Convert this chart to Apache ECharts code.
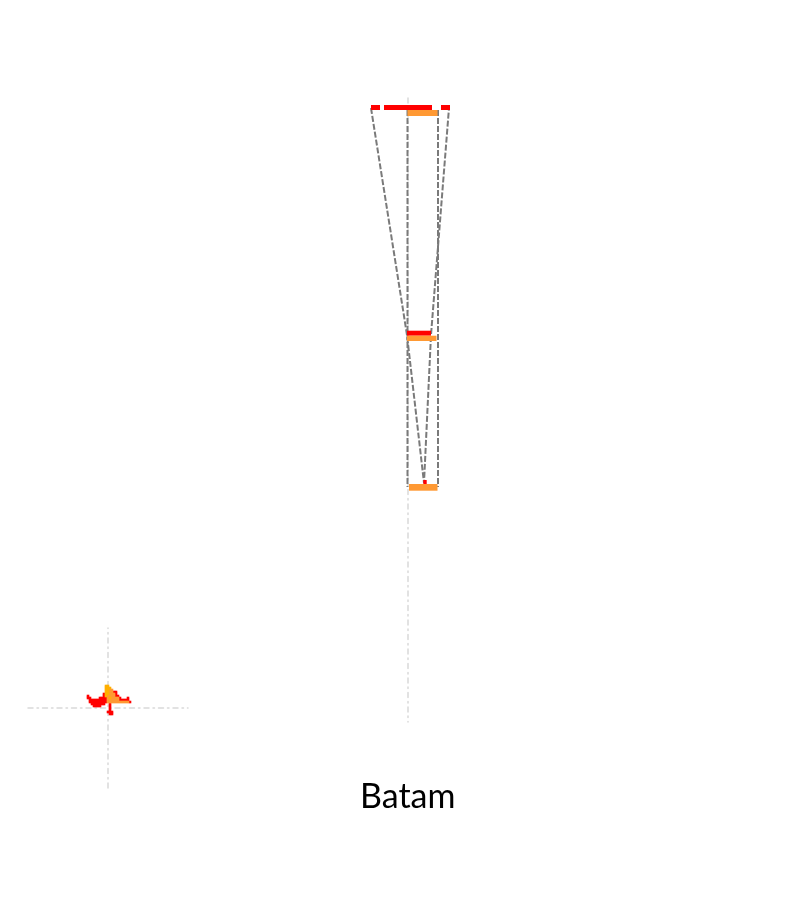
<!DOCTYPE html>
<html>
<head>
<meta charset="utf-8">
<title>Batam</title>
<script src="https://cdn.jsdelivr.net/npm/echarts@6/dist/echarts.min.js"></script>
<style>
	html, body { margin: 0; padding: 0; background: #fff; }
	#main { width: 800px; height: 900px; }
</style>
</head>
<body>
<div id="main"></div>
<script>
// small map cells, rows from top (row 11) down, first char = column -11
var mapRows = [
	"..........yy...........",
	"..........yyy..........",
	"..........yyoo.........",
	"..........yyoorr.......",
	".........ryyooor.......",
	".r.......ryoooorr......",
	".rr....rrrroyoooor...r.",
	"..rrrrrrrrroooooorrrrr.",
	"..rrrrrrrrrooooooooooor",
	"...rrrrrrr..r..........",
	"....rrrr....r..........",
	"............r..........",
	"............r..........",
	"...........rrr.........",
	"............rr........."
];
var mapTopRow = 11;
var mapLeftCol = -11;

// zoomed view: bars as [from, to, top, bottom]
var redBars = [
	[-36.5, -27.5, 7, 12],
	[-23.5, 24.5, 7, 12],
	[33.5, 42.5, 7, 12],
	[-0.5, 23.5, 232.7, 237.7],
	[15.8, 19.2, 382, 386]
];
var orangeBars = [
	[0, 30, 12, 18],
	[-0.5, 29, 237.7, 243],
	[1.5, 30, 386, 392.7]
];
// outline of the stretched shape
var outline = [[-36.5, 10], [-0.5, 237], [16.5, 385], [18.5, 385], [23.5, 237], [41.5, 10]];
var leftEdge = [[0, 12], [0, 389]];
var rightEdge = [[30.5, 12], [30.5, 389]];

var cellColors = { r: '#ff0000', o: '#ff9933', y: '#ffb000' };

function mapCells(kind) {
	var t = [];
	for (var i = 0; i < mapRows.length; i++) {
		for (var j = 0; j < mapRows[i].length; j++) {
			if (mapRows[i].charAt(j) === kind) {
				t.push([mapLeftCol + j, mapTopRow - i]);
			}
		}
	}
	return t;
}

function cellSeries(kind) {
	return {
		type: 'scatter',
		xAxisIndex: 0,
		yAxisIndex: 0,
		symbol: 'rect',
		symbolSize: 2.6,
		data: mapCells(kind),
		itemStyle: { color: cellColors[kind], opacity: 1 }
	};
}

function barSeries(data, color) {
	return {
		type: 'custom',
		xAxisIndex: 1,
		yAxisIndex: 1,
		z: 5,
		data: data,
		renderItem: function (params, api) {
			var p0 = api.coord([api.value(0), api.value(2)]);
			var p1 = api.coord([api.value(1), api.value(3)]);
			return {
				type: 'rect',
				shape: { x: p0[0], y: p0[1], width: p1[0] - p0[0], height: p1[1] - p0[1] },
				style: { fill: color }
			};
		}
	};
}

function edgeSeries(data) {
	return {
		type: 'line',
		xAxisIndex: 1,
		yAxisIndex: 1,
		data: data,
		symbol: 'none',
		silent: true,
		z: 3,
		lineStyle: { color: '#7a7a7a', width: 2, type: [6, 2] }
	};
}

var crossLine = { show: true, onZero: true, lineStyle: { color: '#d9d9d9', width: 1.5, type: [5, 4, 1.5, 4] } };

var myChart = echarts.init(document.getElementById('main'));
var option = {
	backgroundColor: '#fff',
	animation: false,
	title: {
		text: 'Batam',
		left: 355,
		top: 775,
		textStyle: { fontFamily: 'Lato', fontSize: 34, fontWeight: 'normal', color: '#000' }
	},
	grid: [
		{ left: 28, top: 628, width: 160, height: 160 },
		{ left: 357.5, top: 98, width: 100, height: 624 }
	],
	xAxis: [
		{ type: 'value', gridIndex: 0, min: -40, max: 40, axisLine: crossLine, axisTick: { show: false }, axisLabel: { show: false }, splitLine: { show: false } },
		{ type: 'value', gridIndex: 1, min: -50, max: 50, axisLine: { show: false }, axisTick: { show: false }, axisLabel: { show: false }, splitLine: { show: false } }
	],
	yAxis: [
		{ type: 'value', gridIndex: 0, min: -40, max: 40, axisLine: crossLine, axisTick: { show: false }, axisLabel: { show: false }, splitLine: { show: false } },
		{ type: 'value', gridIndex: 1, min: 0, max: 624, inverse: true, axisLine: crossLine, axisTick: { show: false }, axisLabel: { show: false }, splitLine: { show: false } }
	],
	series: [
		cellSeries('r'),
		cellSeries('o'),
		cellSeries('y'),
		edgeSeries(outline),
		edgeSeries(leftEdge),
		edgeSeries(rightEdge),
		barSeries(redBars, '#ff0000'),
		barSeries(orangeBars, '#ff9933')
	]
};
myChart.setOption(option);
</script>
</body>
</html>
